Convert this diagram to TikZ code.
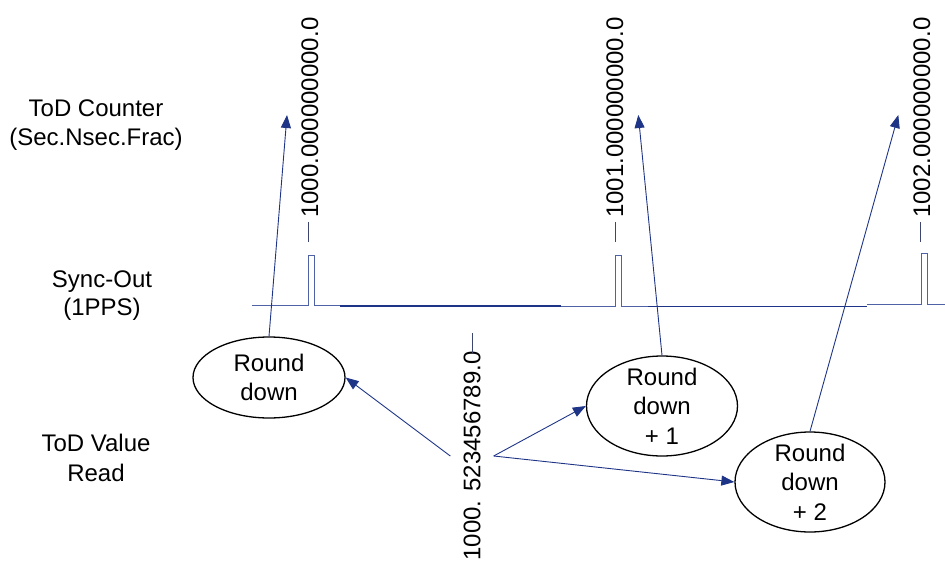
\documentclass[tikz,border=0pt]{standalone}
\usepackage{fontspec}
\setmainfont{Liberation Sans}
\usetikzlibrary{shapes.geometric,arrows.meta}
\definecolor{navy}{RGB}{30,52,135}
\definecolor{pulse}{RGB}{78,98,165}
\definecolor{tickc}{RGB}{60,70,110}
\begin{document}
\begin{tikzpicture}[x=1pt,y=-1pt,
  txt/.style={font=\fontsize{24}{29.5}\selectfont, inner sep=0pt},
  lbl/.style={txt, anchor=base},
  vlbl/.style={txt, rotate=90, anchor=base west},
  oval/.style={txt, draw=black, line width=1.3pt, ellipse, inner sep=-20pt, align=center},
  arr/.style={draw=navy, line width=0.9pt, -{Triangle[length=13pt,width=10pt]}},
  sig/.style={draw=pulse, line width=1pt},
  sigdark/.style={draw=navy, line width=1.1pt},
  tickline/.style={draw=tickc, line width=1pt}]
\useasboundingbox (0,0) rectangle (945,562);

% left labels
\node[lbl] (todc1) at (96,116) {ToD Counter};
\node[lbl] (todc2) at (96,145) {(Sec.Nsec.Frac)};
\node[lbl] (sync1) at (102,287) {Sync-Out};
\node[lbl] (sync2) at (102,315) {(1PPS)};
\node[lbl] (read1) at (96,451) {ToD Value};
\node[lbl] (read2) at (96,481) {Read};

% rotated counter labels
\node[vlbl] (c1000) at (318,218) {1000.000000000.0};
\node[vlbl] (c1001) at (623,218) {1001.000000000.0};
\node[vlbl] (c1002) at (930,218) {1002.000000000.0};

% ticks
\draw[tickline] (308.5,222) -- (308.5,242);
\draw[tickline] (615.5,222) -- (615.5,242);
\draw[tickline] (920.5,222) -- (920.5,242);

% signal (1PPS)
\draw[sig] (252,305.3) -- (308,305.3) -- (308,255) -- (314.7,255) -- (314.7,305.3) -- (340,305.3);
\draw[sigdark] (340,306) -- (561,306);
\draw[sig] (561,306.8) -- (615.7,306.8) -- (615.7,255.7) -- (621.3,255.7) -- (621.3,306.8) -- (648,306.8);
\draw[sigdark] (648,306.3) -- (867,306.3);
\draw[sig] (867,304.7) -- (921.3,304.7) -- (921.3,253.3) -- (927.7,253.3) -- (927.7,304.7) -- (945,304.7);

% ellipses
\node[oval, minimum width=152pt, minimum height=81pt] (e1) at (269,377.5) {Round\\down};
\node[oval, minimum width=151pt, minimum height=100pt] (e2) at (662,406) {Round\\down\\+ 1};
\node[oval, minimum width=150pt, minimum height=100pt] (e3) at (810,482) {Round\\down\\+ 2};

% read value
\node[txt, rotate=90, inner sep=13pt] (rv) at (472,456) {1000. 523456789.0};
\draw[tickline] (472.5,333) -- (472.5,353);

% free ends
\coordinate (t1) at (287,115);
\coordinate (t2) at (638.3,115);
\coordinate (t3) at (898.3,115);

% arrows
\draw[arr] (e1.north) -- (t1);
\draw[arr] (e2.north) -- (t2);
\draw[arr] (e3.north) -- (t3);
\draw[arr] (rv.north) -- (e1.east);
\draw[arr] (rv.south) -- (e2.west);
\draw[arr] (rv.south) -- (e3.west);
\end{tikzpicture}
\end{document}
